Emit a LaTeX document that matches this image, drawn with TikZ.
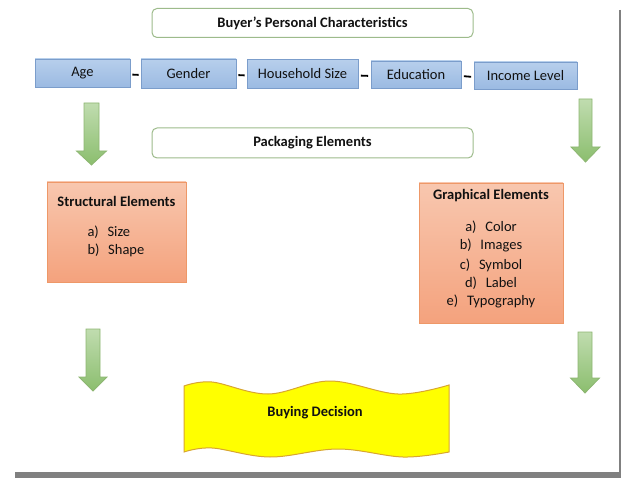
\documentclass[tikz,border=0pt]{standalone}
\usepackage{fontspec}
\setmainfont{Carlito}
\usetikzlibrary{calc}
\definecolor{bluetop}{HTML}{B7CFEC}
\definecolor{bluebot}{HTML}{9BBAE2}
\definecolor{blueline}{HTML}{7B9DCB}
\definecolor{orangetop}{HTML}{F8C7AF}
\definecolor{orangebot}{HTML}{F4A27D}
\definecolor{orangeline}{HTML}{EE9868}
\definecolor{greentop}{HTML}{C0DCAF}
\definecolor{greenbot}{HTML}{8BBE6E}
\definecolor{greenline}{HTML}{8DB672}
\definecolor{headline}{HTML}{9DBB8B}
\definecolor{waveline}{HTML}{D8A531}
\definecolor{waveyellow}{HTML}{FFFF00}
\definecolor{txt}{HTML}{111111}
\definecolor{frame}{HTML}{808080}
\newcommand\greenarrowshape[6]{% cx, top, headstart, tip, half shaft, half head
  \path[garrow] (#1-#5,#2) -- (#1+#5,#2) -- (#1+#5,#3) -- (#1+#6,#3) -- (#1,#4)
    -- (#1-#6,#3) -- (#1-#5,#3) -- cycle;}
\begin{document}
\begin{tikzpicture}[x=1pt,y=-1pt,
  every node/.style={text=txt, font=\fontsize{14.5}{18}\selectfont},
  headbox/.style={draw=headline, line width=1pt, fill=white, rounded corners=5pt,
    minimum width=321pt, minimum height=29pt, font=\fontsize{14.5}{18}\selectfont\bfseries},
  charbox/.style={draw=blueline, line width=0.8pt, top color=bluetop, bottom color=bluebot,
    minimum height=28pt, inner sep=0pt},
  elembox/.style={draw=orangeline, line width=0.8pt, top color=orangetop, bottom color=orangebot, inner sep=0pt},
  joinline/.style={draw=black, line width=1.8pt},
  garrow/.style={draw=greenline, line width=0.8pt, top color=greentop, bottom color=greenbot},
  wavebox/.style={draw=waveline, line width=1pt, fill=waveyellow},
  bold/.style={font=\fontsize{14.5}{18}\selectfont\bfseries}
]
\useasboundingbox (0,0) rectangle (621,478);

% frame lines
\fill[frame] (15,472) rectangle (621,478);
\draw[frame, line width=1.5pt] (620,10) -- (620,472);

% header
\node[headbox] (buyer) at (312.5,23) {Buyer's Personal Characteristics};

% characteristics row
\node[charbox, minimum width=95pt] (age) at (82.5,73) {Age};
\node[charbox, minimum width=95pt, minimum height=29pt] (gender) at (188.5,73.5) {Gender};
\node[charbox, minimum width=111pt, minimum height=29pt] (house) at (302.5,74) {Household Size};
\node[charbox, minimum width=90pt, minimum height=27pt] (edu) at (416,74.5) {Education};
\node[charbox, minimum width=103pt, minimum height=27pt] (income) at (525.5,75.5) {Income Level};

\draw[joinline] ($(age.east)!0.2!(gender.west)+(0,1.5)$) -- ($(age.east)!0.8!(gender.west)+(0,1.5)$);
\draw[joinline] ($(gender.east)!0.2!(house.west)+(0,1.5)$) -- ($(gender.east)!0.8!(house.west)+(0,1.5)$);
\draw[joinline] ($(house.east)!0.2!(edu.west)+(0,1.5)$) -- ($(house.east)!0.8!(edu.west)+(0,1.5)$);
\draw[joinline] ($(edu.east)!0.2!(income.west)+(0,1.5)$) -- ($(edu.east)!0.8!(income.west)+(0,1.5)$);

% packaging
\node[headbox, minimum height=30pt] (pack) at (312.5,143) {Packaging Elements};

% green arrows
\greenarrowshape{91.5}{103}{151}{165}{7.5}{15}
\greenarrowshape{585.5}{99}{147}{162}{6.5}{14.5}
\greenarrowshape{93}{329}{377}{391}{7}{14}
\greenarrowshape{585}{332}{378}{393}{7}{14.5}

% structural elements
\node[elembox, minimum width=139pt, minimum height=100pt] (struct) at (116.5,232) {};
\node[bold] (structtitle) at (116.5,201) {Structural Elements};
\node[anchor=west] (s1) at (84,232) {a)\hspace{0.6em}Size};
\node[anchor=west] (s2) at (84,250) {b)\hspace{0.6em}Shape};

% graphical elements
\node[elembox, minimum width=144pt, minimum height=140pt] (graph) at (491,253) {};
\node[bold] (graphtitle) at (491,196) {Graphical Elements};
\node (g1) at (491,227) {a)\hspace{0.6em}Color};
\node (g2) at (491,245.5) {b)\hspace{0.6em}Images};
\node (g3) at (491,265) {c)\hspace{0.6em}Symbol};
\node (g4) at (491,283) {d)\hspace{0.6em}Label};
\node (g5) at (491,301) {e)\hspace{0.6em}Typography};

% buying decision wave
\path[wavebox] plot[smooth, tension=0.6] coordinates {(184,386) (212,382) (268,394) (330,381) (398,394) (449,385)}
  -- plot[smooth, tension=0.6] coordinates {(449,452) (403,457) (338,449) (270,457) (212,448) (184,452)} -- cycle;
\node[bold] (decision) at (315,413) {Buying Decision};
\end{tikzpicture}
\end{document}
